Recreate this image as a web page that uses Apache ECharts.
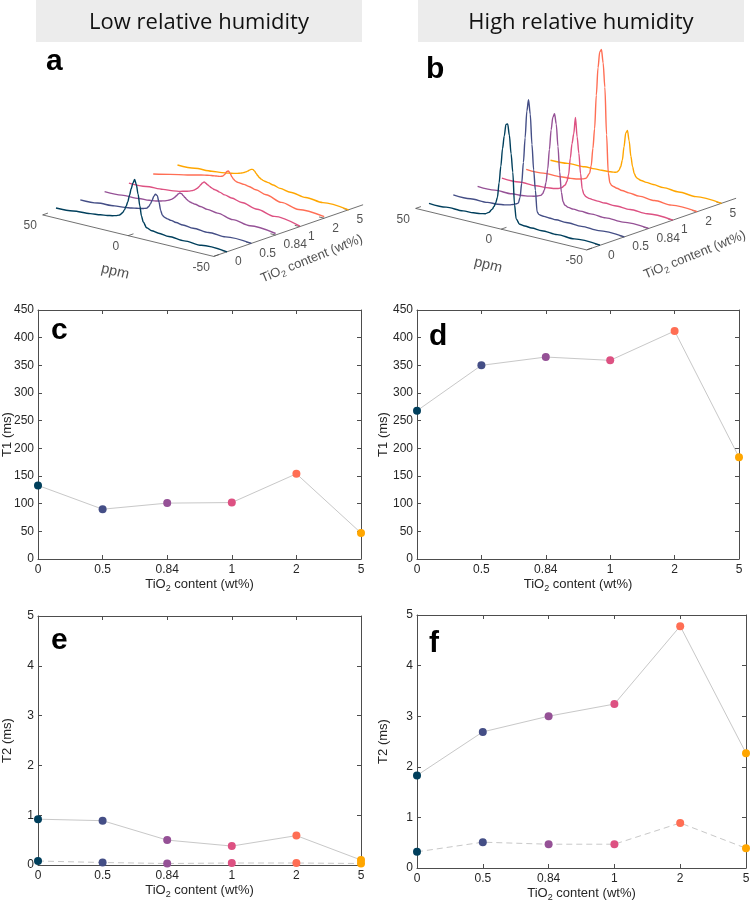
<!DOCTYPE html>
<html>

<head>
    <meta charset="utf-8">
    <title>TiO2 relaxation</title>
    <script src="https://cdn.jsdelivr.net/npm/echarts@6.0.0/dist/echarts.min.js"></script>
    <style>
        html, body { margin: 0; padding: 0; background: #fff; }
        #main { width: 750px; height: 907px; }
    </style>
</head>

<body>
    <div id="main"></div>
    <script type="text/javascript">
        // categories and colours
        var tio2 = ['0', '0.5', '0.84', '1', '2', '5'];
        var colors = ['#003f5c', '#444e86', '#955196', '#dd5182', '#ff6e54', '#ffa600'];

        // relaxation times (c-f)
        var t1Low = [133, 90, 101, 102, 154, 47];
        var t1High = [268, 350, 365, 359, 412, 184];
        var t2LowLong = [0.92, 0.89, 0.5, 0.38, 0.59, 0.1];
        var t2LowShort = [0.08, 0.05, 0.03, 0.04, 0.04, 0.03];
        var t2HighLong = [1.83, 2.69, 3.0, 3.24, 4.78, 2.27];
        var t2HighShort = [0.32, 0.51, 0.47, 0.47, 0.89, 0.39];

        var ppm = [50, 40, 30, 24, 20, 17, 15, 13, 12, 11, 10, 9, 8, 7, 6, 5, 4, 3, 2, 1, 0, -1, -3, -6, -10, -16, -25, -35, -50];
        var ppmTicks = [50, 0, -50];
        var low0 = [2.3, 3.5, 5, 6.3, 7.3, 8.3, 9.2, 10.5, 12, 14, 17, 21, 26, 33, 40, 46, 50, 45, 36, 25, 15, 9.5, 4.5, 2.8, 2, 1.2, 0.6, 0.3, 0];
        var low1 = [2, 3, 4.3, 5.3, 6.3, 7.3, 8, 8.8, 9.3, 10, 12, 15, 19, 23.5, 26, 25, 19, 11, 6.5, 5.3, 4.6, 4.2, 3.5, 2.6, 1.8, 1.1, 0.6, 0.3, 0];
        var low2 = [1.8, 2.5, 3.3, 4, 5, 6.2, 7.2, 8.5, 9.3, 10.3, 11.6, 13.2, 15.2, 17.4, 18.8, 18.6, 17, 15.5, 14, 13, 12.3, 11.8, 11.3, 10.2, 9, 7.8, 5, 3, 1.5];
        var low3 = [2, 2.8, 4, 5, 6.2, 7.5, 8.5, 9.8, 10.7, 12, 13.5, 15.3, 17.8, 20, 21.5, 20.5, 19.5, 18.5, 17.5, 16.8, 16.3, 16, 15, 13.5, 12, 10, 7, 4, 0.5];
        var low4 = [2.7, 6.5, 10, 12.5, 14, 15, 15.5, 16, 16.2, 16.5, 17, 18, 20, 23, 24, 22, 19, 17, 15.7, 15, 14.8, 14.6, 14.3, 13.5, 11.8, 9.3, 5.5, 2.5, 1.5];
        var low5 = [3.3, 4.2, 5.4, 6.5, 7.6, 8.6, 9.5, 10.5, 11.2, 12, 13, 14.2, 15.6, 16.8, 17.2, 16, 14, 12, 10.5, 9.5, 8.7, 8.2, 7.7, 6.5, 4.8, 3.5, 2, 1, 0];
        var high0 = [0.5, 0.8, 1.2, 1.8, 2.6, 3.8, 6, 10, 13, 17, 23, 38, 55, 73, 86, 98, 99, 88, 70, 52, 20, 6, 1.5, 1, 0.7, 0.5, 0.3, 0.2, 0.1];
        var high1 = [0.5, 0.8, 1.3, 2, 3, 4.2, 5.5, 7, 8, 14, 28.7, 50, 75, 102, 114, 100, 70, 45, 25, 4, 1.8, 1.3, 1, 0.7, 0.5, 0.3, 0.2, 0.1, 0];
        var high2 = [0.6, 1, 1.5, 2.3, 3.3, 4.5, 5.5, 7, 9, 13, 21, 35, 55, 75, 88, 92, 82, 60, 35, 15, 6, 3, 1.6, 1.1, 0.8, 0.5, 0.3, 0.2, 0.1];
        var high3 = [0.5, 0.8, 1.2, 1.8, 2.6, 3.8, 5.5, 9, 13, 20, 37, 52, 62, 79, 60, 44, 24, 9, 4, 2.5, 1.8, 1.4, 1, 0.7, 0.5, 0.3, 0.2, 0.1, 0];
        var high4 = [0.8, 1.2, 1.8, 2.6, 3.6, 5, 6.5, 12, 20, 38, 58, 92, 120, 136, 139, 126, 102, 55, 17, 7.5, 5.5, 4.8, 4, 3, 2.2, 1.5, 0.8, 0.4, 0];
        var high5 = [1.5, 2.6, 3.3, 3.7, 4, 4.3, 4.6, 5, 5.3, 6, 8, 12, 19, 33, 47, 50, 40, 25, 15, 8.5, 5.5, 4.3, 3.3, 2.7, 2.2, 1.6, 1, 0.5, 0];
        var lowSpectra = [low0, low1, low2, low3, low4, low5];
        var highSpectra = [high0, high1, high2, high3, high4, high5];

        var FONT = '"Liberation Sans", Arial, Helvetica, sans-serif';
        var TXT = '#262626';
        var AX = '#4d4d4d';
        var subRich = { s: { fontSize: 9, fontFamily: FONT, color: TXT, padding: [8, 0, 0, 0] } };

        var chart = echarts.init(document.getElementById('main'));

        // grid 0 covers the page in pixel units, used for the waterfall panels
        var grids = [{ left: 0, top: 0, width: 750, height: 907, outerBoundsMode: 'none' }];
        var xAxes = [{ gridIndex: 0, type: 'value', min: 0, max: 750, show: false }];
        var yAxes = [{ gridIndex: 0, type: 'value', min: 0, max: 907, inverse: true, show: false }];
        var series = [];

        // oblique projection of (ppm, sample index, intensity) onto the page
        function proj(p, k, h, off) {
            var f = (50 - p) / 100;
            return [off[0] + 56 + f * 171 + k * 24.3, off[1] + 210.3 + f * 41.5 - k * 8.4 - h];
        }

        function seg(points) {
            series.push({
                type: 'line', xAxisIndex: 0, yAxisIndex: 0, data: points, symbol: 'none', clip: false, silent: true,
                lineStyle: { color: AX, width: 0.8 }, z: 2
            });
        }

        function textMarks(items, label) {
            series.push({
                type: 'scatter', xAxisIndex: 0, yAxisIndex: 0, symbolSize: 1, silent: true, clip: false,
                itemStyle: { color: 'rgba(0,0,0,0)' }, data: items,
                label: Object.assign({ show: true, formatter: '{b}', color: TXT, fontFamily: FONT, fontSize: 12 }, label)
            });
        }

        function waterfall(spectra, off, titleShift) {
            for (var k = spectra.length - 1; k >= 0; k--) {
                series.push({
                    type: 'line', xAxisIndex: 0, yAxisIndex: 0, symbol: 'none', clip: false, silent: true,
                    smooth: 0.3, smoothMonotone: 'x',
                    lineStyle: { color: colors[k], width: 1.4 },
                    data: ppm.map(function (p, i) { return proj(p, k, spectra[k][i], off); }),
                    z: 3
                });
            }
            var kFront = -0.55, kBack = 5.6;
            seg([proj(50, kFront, 0, off), proj(-50, kFront, 0, off), proj(-50, kBack, 0, off)]);
            ppmTicks.forEach(function (p) { seg([proj(p, kFront, 0, off), proj(p, kFront + 0.22, 0, off)]); });
            tio2.forEach(function (t, k) { seg([proj(-50, k, 0, off), proj(-47, k, 0, off)]); });

            textMarks(ppmTicks.map(function (p) {
                var q = proj(p, kFront, 0, off);
                return { name: String(p), value: [q[0] - 12.4, q[1] + 11] };
            }), { position: 'inside' });
            textMarks(tio2.map(function (t, k) {
                var q = proj(-50, k, 0, off);
                return { name: t, value: [q[0] + 1.5, q[1] + 10] };
            }), { position: 'right', distance: 6 });
            var c = proj(0, kFront, 0, off);
            textMarks([{ name: 'ppm', value: [c[0] - 13, c[1] + 36] }], { position: 'inside', fontSize: 14.5, rotate: -13.6 });
            var m = proj(-50, 2.5, 0, off);
            textMarks([{ name: 'TiO{s|2} content (wt%)', value: [m[0] + titleShift[0], m[1] + titleShift[1]] }],
                { position: 'inside', fontSize: 13, rotate: 22, rich: subRich });
        }

        function panel(box, yMax, yStep, yName, yGap, lines) {
            var g = grids.length;
            box.outerBoundsMode = 'none';
            grids.push(box);
            var line = { show: true, onZero: false, lineStyle: { color: AX, width: 1 } };
            var tick = { show: true, inside: true, length: 4, interval: 0, lineStyle: { color: AX, width: 1 } };
            var xi = xAxes.length, yi = yAxes.length;
            xAxes.push({
                gridIndex: g, type: 'category', data: tio2, boundaryGap: false, position: 'bottom',
                axisLine: line, axisTick: tick, splitLine: { show: false },
                axisLabel: { interval: 0, color: TXT, fontFamily: FONT, fontSize: 12, margin: 5 },
                name: 'TiO{s|2} content (wt%)', nameLocation: 'middle', nameGap: 17, nameMoveOverlap: false,
                nameTextStyle: { color: TXT, fontFamily: FONT, fontSize: 13, rich: subRich }
            });
            xAxes.push({
                gridIndex: g, type: 'category', data: tio2, boundaryGap: false, position: 'top',
                axisLine: line, axisTick: tick, axisLabel: { show: false }, splitLine: { show: false }
            });
            yAxes.push({
                gridIndex: g, type: 'value', min: 0, max: yMax, interval: yStep, position: 'left',
                axisLine: line, axisTick: tick, splitLine: { show: false },
                axisLabel: { color: TXT, fontFamily: FONT, fontSize: 12, margin: 4 },
                name: yName, nameLocation: 'middle', nameGap: yGap, nameMoveOverlap: false,
                nameTextStyle: { color: TXT, fontFamily: FONT, fontSize: 13 }
            });
            yAxes.push({
                gridIndex: g, type: 'value', min: 0, max: yMax, interval: yStep, position: 'right',
                axisLine: line, axisTick: tick, axisLabel: { show: false }, splitLine: { show: false }
            });
            lines.forEach(function (l) {
                series.push({
                    type: 'line', xAxisIndex: xi, yAxisIndex: yi, clip: false, symbol: 'circle', symbolSize: 8,
                    showAllSymbol: true, silent: true,
                    lineStyle: { color: '#c8c8c8', width: 1, type: l.dashed ? [6, 4] : 'solid' },
                    data: l.values.map(function (v, i) { return { value: v, itemStyle: { color: colors[i] } }; }),
                    z: 4
                });
            });
        }

        waterfall(lowSpectra, [0, 0], [24, 28]);
        waterfall(highSpectra, [373, -6.5], [34, 30.7]);

        panel({ left: 38, top: 310, width: 323, height: 249 }, 450, 50, 'T1 (ms)', 24, [{ values: t1Low }]);
        panel({ left: 417, top: 310, width: 322, height: 249 }, 450, 50, 'T1 (ms)', 27, [{ values: t1High }]);
        panel({ left: 38, top: 616, width: 323, height: 249 }, 5, 1, 'T2 (ms)', 24,
            [{ values: t2LowShort, dashed: true }, { values: t2LowLong }]);
        panel({ left: 417, top: 615, width: 329, height: 253 }, 5, 1, 'T2 (ms)', 27,
            [{ values: t2HighShort, dashed: true }, { values: t2HighLong }]);

        function letter(ch, x, y) {
            return {
                type: 'text', z: 10,
                style: { text: ch, x: x, y: y, font: 'bold 30px "Liberation Sans", Arial', fill: '#000',
                    align: 'left', verticalAlign: 'middle', textAlign: 'left', textVerticalAlign: 'middle' }
            };
        }
        function banner(txt, x, w) {
            return [
                { type: 'rect', z: 1, shape: { x: x, y: 0, width: w, height: 42 }, style: { fill: '#ececec' } },
                { type: 'text', z: 2, style: { text: txt, x: x + w / 2, y: 23, font: '22px "Open Sans", sans-serif', fill: '#111',
                    align: 'center', verticalAlign: 'middle', textAlign: 'center', textVerticalAlign: 'middle' } }
            ];
        }

        var option = {
            animation: false,
            backgroundColor: '#fff',
            grid: grids,
            xAxis: xAxes,
            yAxis: yAxes,
            series: series,
            graphic: banner('Low relative humidity', 36, 326).concat(banner('High relative humidity', 418, 326)).concat([
                letter('a', 46, 61.5), letter('b', 426, 70),
                letter('c', 51, 331), letter('d', 429, 337),
                letter('e', 51, 641), letter('f', 429, 644)
            ])
        };
        chart.setOption(option);
    </script>
</body>

</html>
